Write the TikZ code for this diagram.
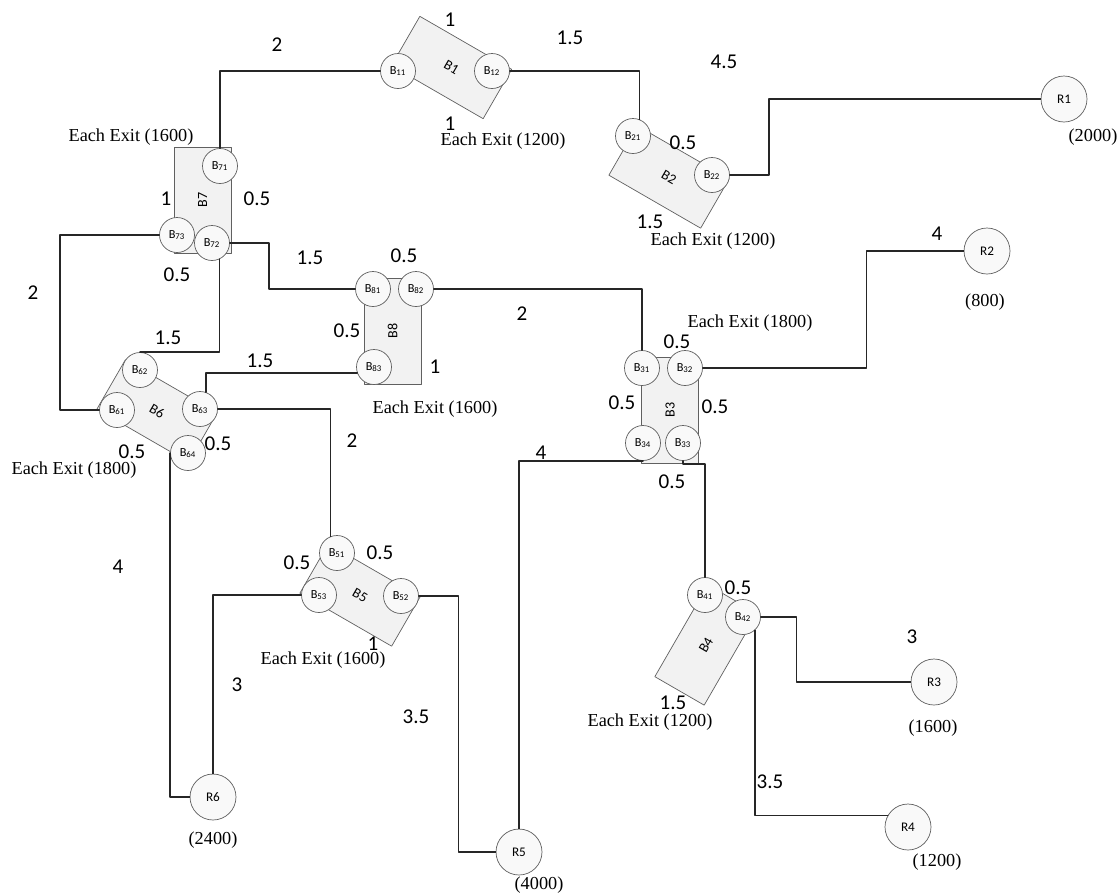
\documentclass[tikz,border=0pt]{standalone}
\usepackage{fontspec}
\setmainfont{Liberation Serif}
\newfontfamily\calibri{Carlito}
\begin{document}
\begin{tikzpicture}[x=0.02cm, y=-0.02cm, line join=round, line cap=round,
    blok/.style={draw=gray!75!black, fill=gray!10, minimum width=2.12cm, minimum height=1.14cm, inner sep=0pt},
    bloklbl/.style={inner sep=0pt, font=\calibri\fontsize{8}{9}\selectfont},
    ext/.style={circle, draw=gray!75!black, fill=gray!5, minimum size=0.7cm, inner sep=0pt, font=\calibri\fontsize{7}{8}\selectfont},
    room/.style={circle, draw=gray!75!black, fill=gray!5, minimum size=0.92cm, inner sep=0pt, font=\calibri\fontsize{7.5}{8}\selectfont},
    len/.style={font=\calibri\fontsize{12}{14}\selectfont, inner sep=0pt},
    exitlbl/.style={font=\fontsize{10.4}{12}\selectfont, inner sep=0pt},
    wire/.style={black!85, line width=0.8pt}]
  \useasboundingbox (0,0) rectangle (1119,894);

  % blocks
  \foreach \b/\x/\y/\r in {1/451.5/67.5/-30, 2/669/177/-30, 3/670/410/90, 4/706/645/60,
      5/360/595/-30, 6/157/411/-30, 7/202.5/200/90, 8/392.5/331/90}
  {
    \node[blok, rotate=\r] (B\b) at (\x,\y) {};
    \node[bloklbl, rotate=\r] (B\b lbl) at (B\b) {B\b};
  }

  % exits of each block
  \foreach \n/\x/\y in {11/398/71, 12/492/71, 21/633/136, 22/712/175,
      31/642/368, 32/685/368, 34/643/443, 33/683/443, 41/705/595, 42/743/617,
      51/337/553, 53/319/595, 52/401/596, 61/117/410, 62/140/370, 63/200/409,
      64/188/453, 71/220/166, 73/177/235, 72/212/243, 81/373/289, 82/416/289,
      83/374/367}
    \node[ext] (B\n) at (\x,\y) {B\textsubscript{\n}};

  % rooms
  \foreach \n/\x/\y in {1/1064/99, 2/987/251, 3/934/682, 4/908/827, 5/519/852, 6/213/797}
    \node[room] (R\n) at (\x,\y) {R\n};

  % connections
  \draw[wire] (B11.west) -| (B71.north);
  \draw[wire] (B12.east) -| (B21.68);
  \draw[wire] (B22.east) -- ++(39,0) |- (R1.west);
  \draw[wire] (B32.east) -- ++(163.5,0) |- (R2.west);
  \draw[wire] (B82.east) -| (B31.north);
  \draw[wire] (B72.east) -- ++(39,0) |- (B81.west);
  \draw[wire] (B73.west) -- ++(-99,0) |- (B61.west);
  \draw[wire] (B72.-65) |- (B62.north);
  \draw[wire] (B63.70) |- (B83.200);
  \draw[wire] (B63.east) -| (B51.112);
  \draw[wire] (B64.west) |- (R6.west);
  \draw[wire] (B53.west) -| (R6.north);
  \draw[wire] (B52.east) -- ++(39.5,0) |- (R5.west);
  \draw[wire] (R5.north) |- (B34.south);
  \draw[wire] (B33.south) -- ++(0,3) -| (B41.north);
  \draw[wire] (B42.east) -- ++(35.5,0) |- (R3.west);
  \draw[wire] (B42.-48) |- (R4.150);

  % lengths
  \foreach \t/\x/\y [count=\i] in {2/277/45, 1/450/20, 1/450/124, 1.5/570/38,
      4.5/724/62, 0.5/683/143, 1.5/650/222, 4/937/234, 2/522/314, 0.5/677/342,
      0.5/622/403, 0.5/715/407, 0.5/672/482, 4/541/453, 1/166/199, 0.5/257/199,
      0.5/177/275, 2/33/293, 1.5/168/338, 1.5/310/258, 0.5/404/256, 0.5/347/331,
      1/435/367, 1.5/260/361, 0.5/132/452, 0.5/218/444, 2/352/441, 4/118/567,
      0.5/297/563, 0.5/380/553, 1/373/644, 3/237/685, 3.5/416/717, 0.5/738/588,
      1.5/673/703, 3/912/637, 3.5/770/782}
    \node[len] (len\i) at (\x,\y) {\t};

  % exit capacities
  \foreach \c/\x/\y [count=\i] in {1200/503/141, 1600/131/137, 1200/713/241,
      1800/750/323, 1600/435/409, 1800/74/470, 1600/323/660, 1200/650/722}
    \node[exitlbl] (ex\i) at (\x,\y) {Each Exit (\c)};

  % room demands
  \foreach \c/\x/\y [count=\i] in {2000/1093/137, 800/985/302, 1600/933/728,
      1200/937/862, 4000/539/885, 2400/213/840}
    \node[exitlbl] (dem\i) at (\x,\y) {(\c)};
\end{tikzpicture}
\end{document}
